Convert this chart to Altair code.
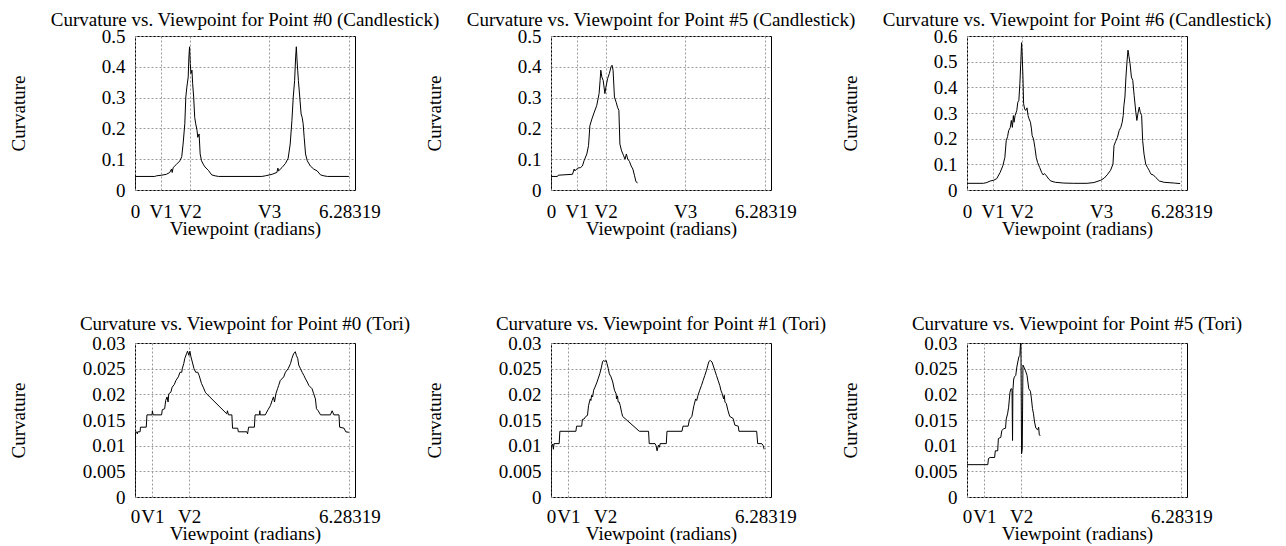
import altair as alt
import pandas as pd

FONT = "Liberation Serif"
FS = 19
X_MAX = 6.45

# ---- tick definitions ----
xt_top_vals = [0, 0.75, 1.6, 3.93, 6.28319]
xt_top_labels = ["0", "V1", "V2", "V3", "6.28319"]
xt_bot_vals = [0, 0.51, 1.59, 6.28319]
xt_bot_labels = ["0", "V1", "V2", "6.28319"]
yt_candle = [0, 0.1, 0.2, 0.3, 0.4, 0.5]
yt_candle6 = [0, 0.1, 0.2, 0.3, 0.4, 0.5, 0.6]
yt_tori = [0, 0.005, 0.01, 0.015, 0.02, 0.025, 0.03]

titles = [
    "Curvature vs. Viewpoint for Point #0 (Candlestick)",
    "Curvature vs. Viewpoint for Point #5 (Candlestick)",
    "Curvature vs. Viewpoint for Point #6 (Candlestick)",
    "Curvature vs. Viewpoint for Point #0 (Tori)",
    "Curvature vs. Viewpoint for Point #1 (Tori)",
    "Curvature vs. Viewpoint for Point #5 (Tori)",
]

# ---- series (viewpoint in radians, curvature) ----
cand0 = [(0, 0.002), (0.005, 0.044), (0.58, 0.044), (0.63, 0.046), (0.78, 0.048), (0.92, 0.051),
         (1.02, 0.057), (1.07, 0.068), (1.09, 0.057), (1.12, 0.073), (1.22, 0.084), (1.32, 0.095),
         (1.37, 0.108), (1.41, 0.149), (1.46, 0.215), (1.49, 0.302), (1.52, 0.334), (1.56, 0.367),
         (1.58, 0.432), (1.60, 0.465), (1.62, 0.411), (1.64, 0.378), (1.67, 0.389), (1.69, 0.345),
         (1.72, 0.302), (1.75, 0.236), (1.78, 0.215), (1.82, 0.193), (1.84, 0.171), (1.88, 0.182),
         (1.91, 0.117), (1.95, 0.095), (2.00, 0.084), (2.05, 0.075), (2.15, 0.064), (2.25, 0.049),
         (2.35, 0.046), (2.45, 0.044), (3.72, 0.044), (3.82, 0.046), (4.02, 0.051), (4.16, 0.057),
         (4.19, 0.071), (4.21, 0.062), (4.31, 0.073), (4.41, 0.086), (4.49, 0.103), (4.55, 0.149),
         (4.60, 0.225), (4.64, 0.302), (4.68, 0.356), (4.71, 0.432), (4.73, 0.465), (4.75, 0.422),
         (4.77, 0.389), (4.79, 0.356), (4.83, 0.302), (4.87, 0.247), (4.90, 0.236), (4.93, 0.215),
         (4.96, 0.171), (5.00, 0.117), (5.05, 0.095), (5.14, 0.078), (5.24, 0.068), (5.34, 0.062),
         (5.44, 0.049), (5.54, 0.046), (5.64, 0.044), (6.27, 0.044)]

cand5 = [(0, 0.002), (0.005, 0.044), (0.19, 0.044), (0.21, 0.048), (0.63, 0.051), (0.68, 0.068),
         (0.70, 0.062), (0.78, 0.071), (0.87, 0.073), (0.92, 0.078), (0.97, 0.095), (1.05, 0.117),
         (1.10, 0.144), (1.14, 0.209), (1.20, 0.231), (1.27, 0.253), (1.34, 0.274), (1.38, 0.296),
         (1.41, 0.313), (1.44, 0.356), (1.46, 0.389), (1.49, 0.367), (1.53, 0.356), (1.58, 0.313),
         (1.61, 0.334), (1.66, 0.362), (1.71, 0.378), (1.76, 0.400), (1.79, 0.405), (1.82, 0.389),
         (1.86, 0.302), (1.91, 0.285), (1.95, 0.269), (1.99, 0.258), (2.02, 0.149), (2.07, 0.127),
         (2.13, 0.111), (2.17, 0.100), (2.21, 0.117), (2.25, 0.100), (2.30, 0.093), (2.35, 0.078),
         (2.40, 0.068), (2.45, 0.046), (2.49, 0.027), (2.54, 0.023)]

cand6 = [(0, 0.026), (0.48, 0.026), (0.58, 0.029), (0.68, 0.035), (0.78, 0.038), (0.87, 0.044),
         (0.97, 0.068), (1.05, 0.094), (1.11, 0.127), (1.15, 0.192), (1.19, 0.208), (1.22, 0.231),
         (1.27, 0.244), (1.30, 0.271), (1.33, 0.244), (1.36, 0.290), (1.38, 0.264), (1.41, 0.290),
         (1.46, 0.310), (1.49, 0.342), (1.52, 0.349), (1.55, 0.414), (1.58, 0.506), (1.60, 0.574),
         (1.62, 0.519), (1.64, 0.440), (1.66, 0.336), (1.69, 0.316), (1.72, 0.310), (1.76, 0.320),
         (1.79, 0.290), (1.82, 0.277), (1.86, 0.264), (1.89, 0.238), (1.91, 0.212), (1.95, 0.199),
         (1.99, 0.166), (2.03, 0.127), (2.07, 0.107), (2.13, 0.088), (2.19, 0.068), (2.23, 0.059),
         (2.27, 0.064), (2.33, 0.055), (2.40, 0.042), (2.46, 0.035), (2.59, 0.030), (2.84, 0.027),
         (3.13, 0.026), (3.52, 0.026), (3.72, 0.029), (3.92, 0.038), (4.02, 0.046), (4.11, 0.059),
         (4.21, 0.077), (4.28, 0.101), (4.31, 0.173), (4.36, 0.190), (4.41, 0.205), (4.46, 0.231),
         (4.51, 0.244), (4.55, 0.264), (4.58, 0.290), (4.60, 0.329), (4.63, 0.362), (4.66, 0.440),
         (4.69, 0.499), (4.72, 0.545), (4.75, 0.519), (4.78, 0.493), (4.82, 0.440), (4.86, 0.427),
         (4.90, 0.369), (4.95, 0.303), (4.98, 0.271), (5.01, 0.297), (5.05, 0.323), (5.08, 0.303),
         (5.12, 0.290), (5.15, 0.192), (5.19, 0.140), (5.24, 0.101), (5.29, 0.088), (5.34, 0.077),
         (5.37, 0.068), (5.40, 0.061), (5.46, 0.059), (5.54, 0.048), (5.64, 0.035), (5.78, 0.030),
         (6.08, 0.027), (6.25, 0.025)]

tori0 = [(0, 0.0), (0.01, 0.0126), (0.04, 0.0127), (0.07, 0.0123), (0.08, 0.0127), (0.15, 0.0127),
         (0.16, 0.0136), (0.33, 0.0136), (0.35, 0.0160), (0.50, 0.0160), (0.51, 0.0168), (0.53, 0.0160),
         (0.78, 0.0160), (0.80, 0.0170), (0.87, 0.0172), (0.90, 0.0188), (0.94, 0.0195), (0.97, 0.0185),
         (0.99, 0.0201), (1.05, 0.0204), (1.09, 0.0214), (1.15, 0.0219), (1.20, 0.0227), (1.27, 0.0234),
         (1.32, 0.0243), (1.37, 0.0243), (1.39, 0.0251), (1.43, 0.0260), (1.46, 0.0270), (1.51, 0.0279),
         (1.54, 0.0284), (1.58, 0.0276), (1.61, 0.0284), (1.64, 0.0273), (1.68, 0.0263), (1.73, 0.0250),
         (1.78, 0.0243), (1.84, 0.0243), (1.88, 0.0237), (1.91, 0.0230), (1.95, 0.0221), (2.00, 0.0214),
         (2.05, 0.0206), (2.07, 0.0203), (2.69, 0.0162), (2.71, 0.0168), (2.74, 0.0160), (2.84, 0.0160),
         (2.86, 0.0134), (3.01, 0.0134), (3.03, 0.0127), (3.28, 0.0127), (3.30, 0.0123), (3.31, 0.0127),
         (3.33, 0.0136), (3.50, 0.0136), (3.52, 0.0160), (3.65, 0.0160), (3.66, 0.0168), (3.67, 0.0160),
         (3.82, 0.0160), (3.90, 0.0170), (3.97, 0.0178), (4.02, 0.0188), (4.06, 0.0195), (4.09, 0.0185),
         (4.13, 0.0201), (4.18, 0.0211), (4.21, 0.0217), (4.26, 0.0227), (4.36, 0.0234), (4.41, 0.0243),
         (4.49, 0.0250), (4.56, 0.0260), (4.60, 0.0270), (4.65, 0.0279), (4.70, 0.0283), (4.73, 0.0276),
         (4.77, 0.0270), (4.80, 0.0257), (4.85, 0.0250), (4.90, 0.0243), (4.95, 0.0237), (5.00, 0.0230),
         (5.05, 0.0224), (5.10, 0.0217), (5.19, 0.0211), (5.24, 0.0201), (5.29, 0.0191), (5.32, 0.0172),
         (5.37, 0.0168), (5.44, 0.0160), (5.73, 0.0160), (5.78, 0.0168), (5.83, 0.0160), (5.98, 0.0160),
         (6.00, 0.0136), (6.13, 0.0134), (6.18, 0.0127), (6.27, 0.0126)]

tori1 = [(0, 0.0), (0.01, 0.0100), (0.03, 0.0100), (0.05, 0.0103), (0.07, 0.0093), (0.09, 0.0104),
         (0.24, 0.0104), (0.26, 0.0128), (0.73, 0.0128), (0.75, 0.0138), (0.90, 0.0138), (0.92, 0.0151),
         (0.97, 0.0152), (1.02, 0.0157), (1.07, 0.0159), (1.10, 0.0178), (1.15, 0.0191), (1.17, 0.0188),
         (1.19, 0.0198), (1.22, 0.0195), (1.25, 0.0208), (1.29, 0.0214), (1.35, 0.0224), (1.38, 0.0230),
         (1.43, 0.0240), (1.48, 0.0253), (1.51, 0.0263), (1.54, 0.0266), (1.58, 0.0264), (1.62, 0.0266),
         (1.64, 0.0260), (1.68, 0.0250), (1.71, 0.0240), (1.76, 0.0234), (1.81, 0.0224), (1.86, 0.0208),
         (1.91, 0.0201), (1.92, 0.0191), (1.95, 0.0197), (1.97, 0.0185), (2.00, 0.0185), (2.03, 0.0178),
         (2.07, 0.0165), (2.10, 0.0157), (2.59, 0.0128), (2.86, 0.0128), (2.88, 0.0104), (3.05, 0.0104),
         (3.08, 0.0100), (3.11, 0.0090), (3.15, 0.0101), (3.18, 0.0097), (3.20, 0.0104), (3.38, 0.0104),
         (3.40, 0.0128), (3.84, 0.0128), (3.87, 0.0138), (4.02, 0.0138), (4.06, 0.0151), (4.13, 0.0157),
         (4.19, 0.0178), (4.24, 0.0191), (4.27, 0.0188), (4.31, 0.0198), (4.36, 0.0208), (4.41, 0.0217),
         (4.46, 0.0227), (4.51, 0.0237), (4.56, 0.0247), (4.60, 0.0257), (4.63, 0.0264), (4.67, 0.0266),
         (4.72, 0.0263), (4.75, 0.0257), (4.80, 0.0247), (4.85, 0.0237), (4.90, 0.0227), (4.95, 0.0217),
         (4.98, 0.0208), (5.02, 0.0201), (5.06, 0.0191), (5.08, 0.0198), (5.10, 0.0185), (5.14, 0.0182),
         (5.19, 0.0168), (5.24, 0.0157), (5.34, 0.0153), (5.39, 0.0140), (5.49, 0.0138), (5.51, 0.0128),
         (6.03, 0.0128), (6.06, 0.0104), (6.18, 0.0104), (6.22, 0.0100), (6.25, 0.0093)]

tori5 = [(0, 0.0063), (0.61, 0.0063), (0.63, 0.0075), (0.68, 0.0077), (0.81, 0.0077), (0.83, 0.0090),
         (0.90, 0.0090), (0.92, 0.0114), (0.99, 0.0116), (1.02, 0.0129), (1.07, 0.0133), (1.13, 0.0134),
         (1.15, 0.0152), (1.19, 0.0162), (1.22, 0.0175), (1.26, 0.0204), (1.29, 0.0211), (1.32, 0.0210),
         (1.335, 0.0110), (1.345, 0.0208), (1.37, 0.0230), (1.39, 0.0234), (1.43, 0.0237), (1.46, 0.0253),
         (1.49, 0.0263), (1.52, 0.0273), (1.55, 0.0276), (1.57, 0.0300), (1.58, 0.0300), (1.60, 0.0084),
         (1.62, 0.0093), (1.64, 0.0257), (1.67, 0.0253), (1.71, 0.0247), (1.76, 0.0237), (1.81, 0.0211),
         (1.86, 0.0206), (1.89, 0.0191), (1.92, 0.0172), (1.95, 0.0162), (1.98, 0.0146), (2.02, 0.0134),
         (2.07, 0.0131), (2.10, 0.0136), (2.12, 0.0121), (2.15, 0.0119)]


def label_expr(vals, labels):
    expr = "''"
    for v, l in reversed(list(zip(vals, labels))):
        expr = f"abs(datum.value - {v}) < 1e-6 ? '{l}' : ({expr})"
    return expr


def panel(title, series, ymax, yvals, xvals, xlabels, title_offset, lab_pad, xtitle_y):
    df = pd.DataFrame(series, columns=["x", "y"])
    df["order"] = range(len(df))
    return alt.Chart(df).mark_line(color="black", strokeWidth=1, clip=True).encode(
        x=alt.X("x:Q",
                scale=alt.Scale(domain=[0, X_MAX], nice=False, zero=False),
                axis=alt.Axis(values=xvals, labelExpr=label_expr(xvals, xlabels),
                              title="Viewpoint (radians)", grid=True, ticks=False, tickSize=0,
                              domain=False, labelFlush=False, labelOverlap=False,
                              labelBaseline="alphabetic", labelPadding=lab_pad,
                              titleBaseline="alphabetic", titleY=xtitle_y)),
        y=alt.Y("y:Q",
                scale=alt.Scale(domain=[0, ymax], nice=False),
                axis=alt.Axis(values=yvals, format="~g", title="Curvature", grid=True,
                              ticks=False, tickSize=0, domain=False, labelPadding=10,
                              labelOverlap=False, labelFlush=False,
                              titleBaseline="alphabetic", titleX=-111)),
        order="order:Q",
    ).properties(
        width=220, height=154,
        title=alt.TitleParams(title, font=FONT, fontSize=FS, fontWeight="normal",
                              color="black", anchor="middle", frame="group",
                              baseline="alphabetic", offset=title_offset),
    )


panels = [
    panel(titles[0], cand0, 0.5, yt_candle, xt_top_vals, xt_top_labels, -18, 27, 44),
    panel(titles[1], cand5, 0.5, yt_candle, xt_top_vals, xt_top_labels, -18, 27, 44),
    panel(titles[2], cand6, 0.6, yt_candle6, xt_top_vals, xt_top_labels, -18, 27, 44),
    panel(titles[3], tori0, 0.03, yt_tori, xt_bot_vals, xt_bot_labels, -15, 25, 42),
    panel(titles[4], tori1, 0.03, yt_tori, xt_bot_vals, xt_bot_labels, -15, 25, 42),
    panel(titles[5], tori5, 0.03, yt_tori, xt_bot_vals, xt_bot_labels, -15, 25, 42),
]

chart = alt.concat(
    *panels, columns=3, spacing={"row": 153, "column": 196}, bounds="flush"
).configure_view(
    stroke="black", strokeWidth=1
).configure_axis(
    labelFont=FONT, titleFont=FONT, labelFontSize=FS, titleFontSize=FS,
    labelColor="black", titleColor="black", titleFontWeight="normal",
    gridColor="#9a9a9a", gridDash=[2, 2], gridWidth=1, gridOpacity=1,
).properties(
    padding={"left": 0, "top": 2, "right": 0, "bottom": 0},
    background="white",
)

chart.save("out.html", embed_options={"renderer": "svg", "actions": False})
